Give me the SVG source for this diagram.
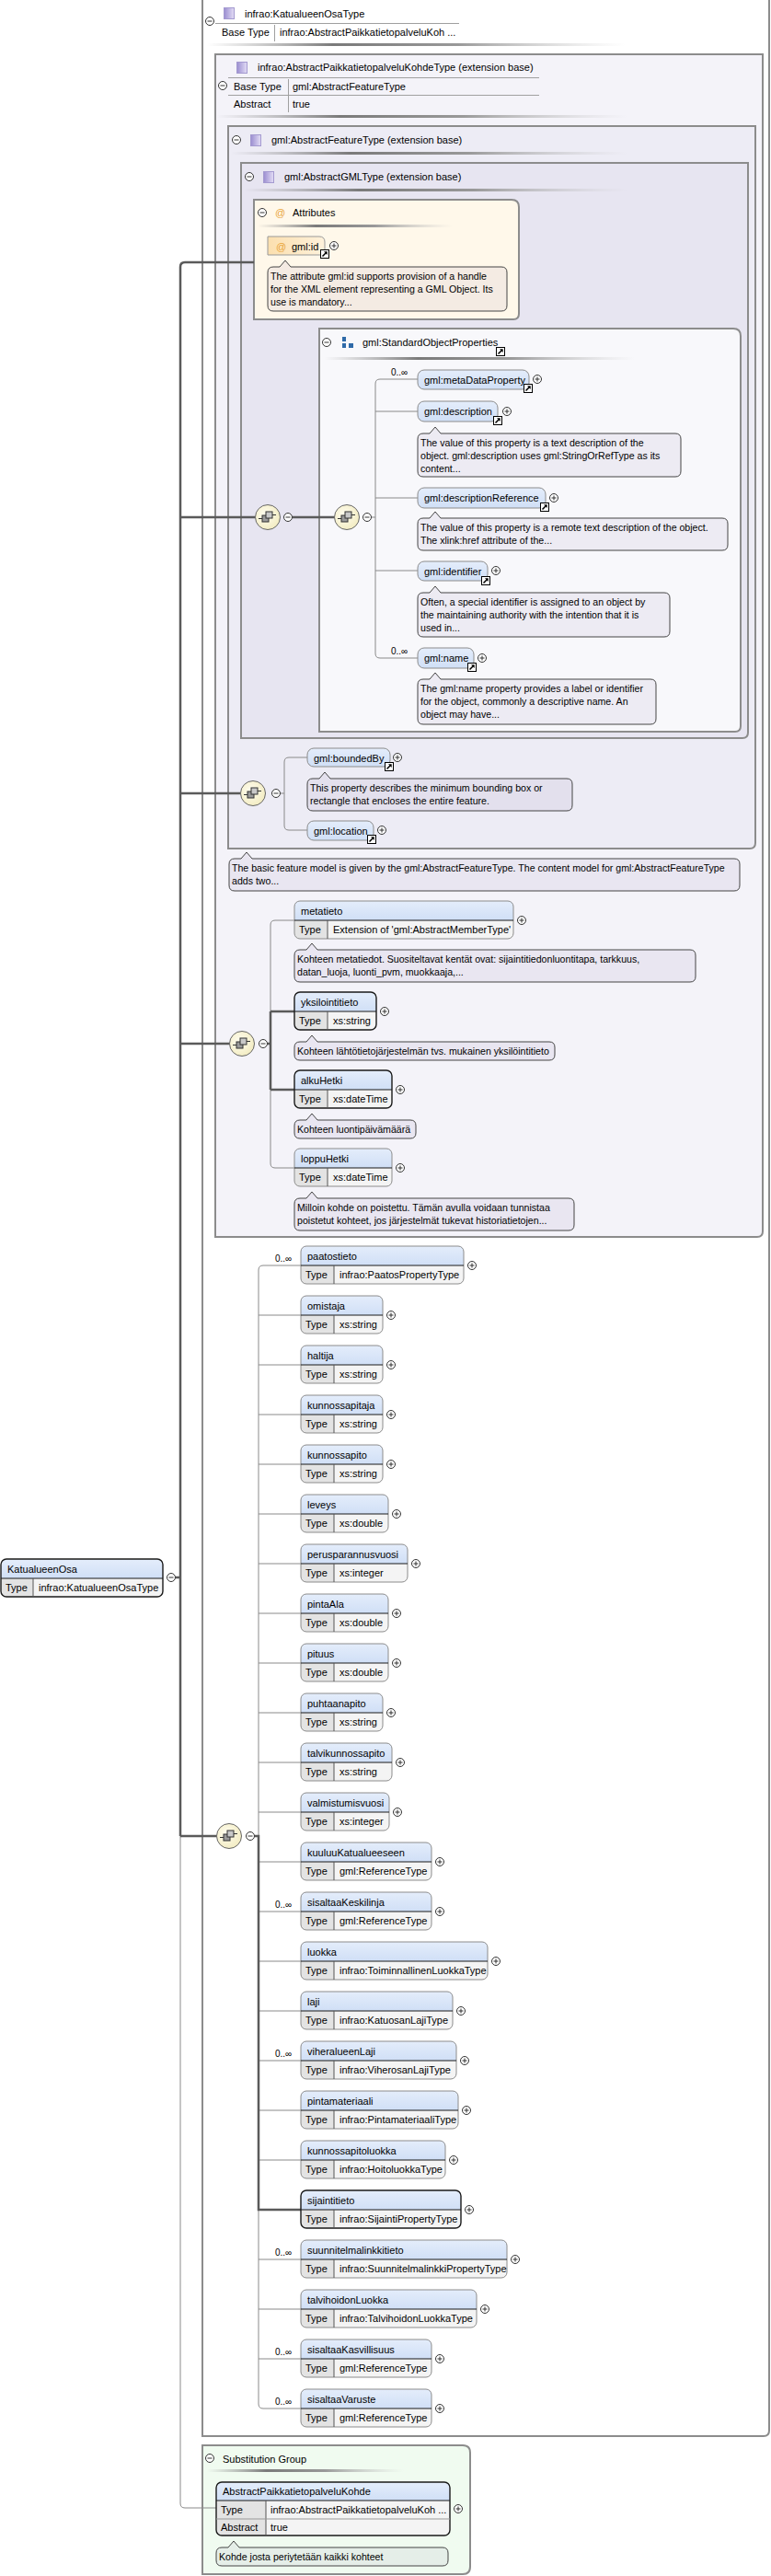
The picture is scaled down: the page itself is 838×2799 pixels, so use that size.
<svg xmlns="http://www.w3.org/2000/svg" width="838" height="2799" viewBox="0 0 838 2799">
<style>
.t{font-family:"Liberation Sans",Arial,sans-serif;font-size:11px;fill:#000}
.a{font-family:"Liberation Sans",Arial,sans-serif;font-size:10.6px;fill:#000}
.oc{font-family:"Liberation Sans",Arial,sans-serif;font-size:10px;fill:#000}
.at{font-family:"Liberation Sans",Arial,sans-serif;font-size:11px;fill:#e9a53a}
.cb{stroke:#8c8c8c;stroke-width:2}
.nr{fill:url(#blu)}
.tr{fill:#f4f4f4}
.tc{fill:#e3e3e3}
.bo{fill:none;stroke:#8c8c8c}
.bm{fill:none;stroke:#1a1a1a;stroke-width:1.4}
.dv{fill:none;stroke:#1a1a1a;stroke-width:1.2}
.sp{fill:none;stroke:#555}
.rb{fill:url(#blu);stroke:#8c8c8c}
.an{fill:#3c2878;fill-opacity:0.06;stroke:#444}
.ck{fill:none;stroke:#5a5a5a;stroke-width:2.5}
.cn{fill:none;stroke:#8a8a8a;stroke-width:1}
.hl{stroke:#a0a0a0;fill:none}
</style>
<defs>
<linearGradient id="sh" x1="0" x2="1" y1="0" y2="0"><stop offset="0" stop-color="#999" stop-opacity="0"/><stop offset="0.3" stop-color="#7a7a7a"/><stop offset="0.6" stop-color="#999"/><stop offset="1" stop-color="#ccc" stop-opacity="0"/></linearGradient>
<linearGradient id="pur" x1="0" x2="1" y1="0" y2="0"><stop offset="0" stop-color="#9a8dd0"/><stop offset="1" stop-color="#e4def6"/></linearGradient>
<linearGradient id="blu" x1="0" y1="0" x2="0" y2="1"><stop offset="0" stop-color="#e4edfb"/><stop offset="1" stop-color="#d0dff6"/></linearGradient>
<linearGradient id="org" x1="0" x2="1" y1="0" y2="0"><stop offset="0" stop-color="#fbdfae"/><stop offset="1" stop-color="#fff2dc"/></linearGradient>
<radialGradient id="cmp" cx="0.4" cy="0.4" r="0.7"><stop offset="0" stop-color="#fffdf0"/><stop offset="1" stop-color="#f1eabd"/></radialGradient>
<g id="pl"><circle r="4.5" fill="#fff" stroke="#333"/><path d="M-2.5,0H2.5M0,-2.5V2.5" stroke="#333"/></g>
<g id="mi"><circle r="4.5" fill="#fff" stroke="#333"/><path d="M-2.5,0H2.5" stroke="#333"/></g>
<g id="lk"><rect x="0.5" y="0.5" width="9" height="9" fill="#fff" stroke="#000"/><path d="M2.5,7.5L6.5,3.5" stroke="#000" stroke-width="1.6"/><path d="M4,2.3H7.7V6Z" fill="#000"/></g>
<g id="ti"><rect x="0.5" y="0.5" width="11" height="12" fill="url(#pur)" stroke="#a49ad0"/></g>
<g id="sq"><circle r="13.5" fill="url(#cmp)" stroke="#666"/><path d="M-10,1.5H-6M5,-2.5H9" stroke="#333"/><rect x="-6" y="-2" width="7" height="7" fill="#9a9a9a" stroke="#333"/><rect x="-2" y="-6" width="7" height="7" fill="#c8c8c8" stroke="#333"/></g>
</defs>

<!-- containers -->
<g id="KatualueenOsaType">
<path class="cb" d="M220,-4H836V2641Q836,2647 830,2647H220Z" fill="#fff"/>
<use href="#mi" x="228" y="23"/>
<use href="#ti" x="243" y="8"/>
<text class="t" x="266" y="19">infrao:KatualueenOsaType</text>
<path class="hl" d="M234,25.5H499"/>
<text class="t" x="241" y="39">Base Type</text>
<path class="hl" d="M298.5,27V45"/>
<text class="t" x="304" y="39">infrao:AbstractPaikkatietopalveluKoh ...</text>
<rect x="225" y="47" width="455" height="3" fill="url(#sh)"/>
</g>
<g id="AbstractPaikkatietopalveluKohdeType">
<path class="cb" d="M234,59H829V1338Q829,1344 823,1344H234Z" fill="#f4f3f9"/>
<use href="#ti" x="257" y="67"/>
<text class="t" x="280" y="77">infrao:AbstractPaikkatietopalveluKohdeType (extension base)</text>
<path class="hl" d="M248,84.5H586M248,103.5H586M313.5,86V122"/>
<use href="#mi" x="242" y="93"/>
<text class="t" x="254" y="98">Base Type</text>
<text class="t" x="318" y="98">gml:AbstractFeatureType</text>
<text class="t" x="254" y="117">Abstract</text>
<text class="t" x="318" y="117">true</text>
<rect x="235" y="125" width="447" height="3" fill="url(#sh)"/>
</g>
<g id="AbstractFeatureType">
<path class="cb" d="M248,137H821V916Q821,922 815,922H248Z" fill="#edecf5"/>
<use href="#mi" x="257" y="152"/>
<use href="#ti" x="272" y="146"/>
<text class="t" x="295" y="156">gml:AbstractFeatureType (extension base)</text>
<rect x="251" y="165" width="431" height="3" fill="url(#sh)"/>
</g>
<g id="AbstractGMLType">
<path class="cb" d="M262,177H813V796Q813,802 807,802H262Z" fill="#e7e5f1"/>
<use href="#mi" x="271" y="192"/>
<use href="#ti" x="286" y="186"/>
<text class="t" x="309" y="196">gml:AbstractGMLType (extension base)</text>
<rect x="265" y="205" width="417" height="3" fill="url(#sh)"/>
</g>
<g id="Attributes">
<path class="cb" d="M276,217H556Q564,217 564,225V341Q564,347 558,347H276Z" fill="#fff8ea"/>
<use href="#mi" x="285" y="231"/>
<text class="at" x="299" y="235">@</text>
<text class="t" x="318" y="235">Attributes</text>
<rect x="280" y="244" width="212" height="3" fill="url(#sh)"/>
</g>
<g id="StandardObjectProperties">
<path class="cb" d="M347,357H797Q805,357 805,365V789Q805,795 799,795H347Z" fill="#f8f8fb"/>
<use href="#mi" x="355" y="372"/>
<rect x="372" y="366" width="4" height="5" fill="#2f6aa8"/><rect x="372" y="373" width="4" height="5" fill="#2f6aa8"/><rect x="379" y="373" width="5" height="5" fill="#2f6aa8"/>
<text class="t" x="394" y="376">gml:StandardObjectProperties</text>
<use href="#lk" x="539" y="377"/>
<rect x="353" y="388" width="337" height="3" fill="url(#sh)"/>
</g>
<g id="SubstitutionGroup">
<path class="cb" d="M220,2657H503Q511,2657 511,2665V2789Q511,2797 503,2797H220Z" fill="#f0fbf0"/>
<use href="#mi" x="228" y="2671"/>
<text class="t" x="242" y="2676">Substitution Group</text>
<rect x="225" y="2683" width="214" height="3" fill="url(#sh)"/>
</g>

<!-- connectors -->
<g id="connectors">
<path class="cn" d="M196,1995V2720Q196,2725 201,2725H235"/>
<path class="cn" d="M403.5,562H408M454,412H413Q408,412 408,417V710Q408,715 413,715H454M408,447H454M408,541H454M408,620H454"/>
<path class="cn" d="M304.5,862H309M334,823H314Q309,823 309,828V897Q309,902 314,902H334"/>
<path class="cn" d="M320,1000H299Q294,1000 294,1005V1264Q294,1269 299,1269H320"/>
<path class="cn" d="M327,1375H286Q281,1375 281,1380V2612Q281,2617 286,2617H327M281,1429H327M281,1483H327M281,1537H327M281,1591H327M281,1645H327M281,1699H327M281,1753H327M281,1807H327M281,1861H327M281,1915H327M281,1969H327M281,2023H327M281,2077H327M281,2131H327M281,2185H327M281,2239H327M281,2293H327M281,2347H327M281,2455H327M281,2509H327M281,2563H327"/>
<path class="ck" d="M190.5,1714H196M276,285H201Q196,285 196,290V1995M196,562H277.5M196,862H261.5M196,1134H249.5M196,1995H235.5M317.5,562H363.5"/>
<path class="ck" d="M290.5,1134H294M294,1099V1184M294,1099H320M294,1184H320"/>
<path class="ck" d="M276.5,1995H281V2401H327"/>
</g>

<!-- compositors -->
<g id="seq-AbstractGMLType"><use href="#sq" x="291" y="562"/><use href="#mi" x="313" y="562"/></g>
<g id="seq-StandardObjectProperties"><use href="#sq" x="377" y="562"/><use href="#mi" x="399" y="562"/></g>
<g id="seq-AbstractFeatureType"><use href="#sq" x="275" y="862"/><use href="#mi" x="300" y="862"/></g>
<g id="seq-AbstractPaikkatietopalveluKohdeType"><use href="#sq" x="263" y="1134"/><use href="#mi" x="286" y="1134"/></g>
<g id="seq-KatualueenOsaType"><use href="#sq" x="249" y="1995"/><use href="#mi" x="272" y="1995"/></g>

<!-- attribute gml:id -->
<g id="gml-id">
<path d="M291,257H347Q353,257 353,263V277H291Z" fill="url(#org)" stroke="#999"/>
<text class="at" x="300" y="272">@</text>
<text class="t" x="317" y="272">gml:id</text>
<use href="#lk" x="348" y="271"/>
<use href="#pl" x="363" y="267"/>
<g transform="translate(291,290)"><path class="an" d="M6,0H13L19,-7L25,0H254Q260,0 260,6V42Q260,48 254,48H6Q0,48 0,42V6Q0,0 6,0Z"/>
<text class="a" x="3" y="14">The attribute gml:id supports provision of a handle</text>
<text class="a" x="3" y="28">for the XML element representing a GML Object. Its</text>
<text class="a" x="3" y="42">use is mandatory...</text></g>
</g>

<!-- StandardObjectProperties elements -->
<g id="gml-metaDataProperty">
<text class="oc" x="425" y="408">0..∞</text>
<rect class="rb" x="454" y="402" width="121" height="21" rx="7"/>
<text class="t" x="461" y="417">gml:metaDataProperty</text>
<use href="#lk" x="569" y="417"/><use href="#pl" x="584" y="412"/>
</g>
<g id="gml-description">
<rect class="rb" x="454" y="436" width="87" height="22" rx="7"/>
<text class="t" x="461" y="451">gml:description</text>
<use href="#lk" x="536" y="452"/><use href="#pl" x="551" y="447"/>
<g transform="translate(454,471)"><path class="an" d="M6,0H13L19,-7L25,0H280Q286,0 286,6V41Q286,47 280,47H6Q0,47 0,41V6Q0,0 6,0Z"/>
<text class="a" x="3" y="14">The value of this property is a text description of the</text>
<text class="a" x="3" y="28">object. gml:description uses gml:StringOrRefType as its</text>
<text class="a" x="3" y="42">content...</text></g>
</g>
<g id="gml-descriptionReference">
<rect class="rb" x="454" y="530" width="139" height="22" rx="7"/>
<text class="t" x="461" y="545">gml:descriptionReference</text>
<use href="#lk" x="587" y="546"/><use href="#pl" x="602" y="541"/>
<g transform="translate(454,563)"><path class="an" d="M6,0H13L19,-7L25,0H331Q337,0 337,6V29Q337,35 331,35H6Q0,35 0,29V6Q0,0 6,0Z"/>
<text class="a" x="3" y="14">The value of this property is a remote text description of the object.</text>
<text class="a" x="3" y="28">The xlink:href attribute of the...</text></g>
</g>
<g id="gml-identifier">
<rect class="rb" x="454" y="610" width="76" height="21" rx="7"/>
<text class="t" x="461" y="625">gml:identifier</text>
<use href="#lk" x="523" y="626"/><use href="#pl" x="539" y="620"/>
<g transform="translate(454,644)"><path class="an" d="M6,0H13L19,-7L25,0H268Q274,0 274,6V42Q274,48 268,48H6Q0,48 0,42V6Q0,0 6,0Z"/>
<text class="a" x="3" y="14">Often, a special identifier is assigned to an object by</text>
<text class="a" x="3" y="28">the maintaining authority with the intention that it is</text>
<text class="a" x="3" y="42">used in...</text></g>
</g>
<g id="gml-name">
<text class="oc" x="425" y="711">0..∞</text>
<rect class="rb" x="454" y="704" width="61" height="22" rx="7"/>
<text class="t" x="461" y="719">gml:name</text>
<use href="#lk" x="508" y="720"/><use href="#pl" x="524" y="715"/>
<g transform="translate(454,738)"><path class="an" d="M6,0H13L19,-7L25,0H253Q259,0 259,6V43Q259,49 253,49H6Q0,49 0,43V6Q0,0 6,0Z"/>
<text class="a" x="3" y="14">The gml:name property provides a label or identifier</text>
<text class="a" x="3" y="28">for the object, commonly a descriptive name. An</text>
<text class="a" x="3" y="42">object may have...</text></g>
</g>

<!-- AbstractFeatureType elements -->
<g id="gml-boundedBy">
<rect class="rb" x="334" y="813" width="90" height="20" rx="7"/>
<text class="t" x="341" y="828">gml:boundedBy</text>
<use href="#lk" x="418" y="828"/><use href="#pl" x="432" y="823"/>
<g transform="translate(334,846)"><path class="an" d="M6,0H13L19,-7L25,0H282Q288,0 288,6V29Q288,35 282,35H6Q0,35 0,29V6Q0,0 6,0Z"/>
<text class="a" x="3" y="14">This property describes the minimum bounding box or</text>
<text class="a" x="3" y="28">rectangle that encloses the entire feature.</text></g>
</g>
<g id="gml-location">
<rect class="rb" x="334" y="892" width="72" height="21" rx="7"/>
<text class="t" x="341" y="907">gml:location</text>
<use href="#lk" x="399" y="907"/><use href="#pl" x="415" y="902"/>
</g>
<g id="ann-AbstractFeatureType" transform="translate(249,933)"><path class="an" d="M6,0H13L19,-7L25,0H549Q555,0 555,6V29Q555,35 549,35H6Q0,35 0,29V6Q0,0 6,0Z"/>
<text class="a" x="3" y="14">The basic feature model is given by the gml:AbstractFeatureType. The content model for gml:AbstractFeatureType</text>
<text class="a" x="3" y="28">adds two...</text></g>

<!-- AbstractPaikkatietopalveluKohdeType elements -->
<g id="metatieto">
<path class="nr" d="M320,1000V985Q320,979 326,979H552Q558,979 558,985V1000Z"/>
<path class="tr" d="M320,1000H558V1014Q558,1020 552,1020H326Q320,1020 320,1014Z"/>
<path class="tc" d="M320,1000H356V1020H326Q320,1020 320,1014Z"/>
<rect class="bo" x="320" y="979" width="238" height="41" rx="6"/>
<path class="dv" d="M320,1000H558"/><path class="sp" d="M356,1000V1020"/>
<text class="t" x="327" y="994">metatieto</text>
<text class="t" x="325" y="1014">Type</text><text class="t" x="362" y="1014">Extension of 'gml:AbstractMemberType'</text>
<use href="#pl" x="567" y="1000"/>
<g transform="translate(320,1032)"><path class="an" d="M6,0H13L19,-7L25,0H430Q436,0 436,6V29Q436,35 430,35H6Q0,35 0,29V6Q0,0 6,0Z"/>
<text class="a" x="3" y="14">Kohteen metatiedot. Suositeltavat kentät ovat: sijaintitiedonluontitapa, tarkkuus,</text>
<text class="a" x="3" y="28">datan_luoja, luonti_pvm, muokkaaja,...</text></g>
</g>
<g id="yksilointitieto">
<path class="nr" d="M320,1099V1084Q320,1078 326,1078H403Q409,1078 409,1084V1099Z"/>
<path class="tr" d="M320,1099H409V1113Q409,1119 403,1119H326Q320,1119 320,1113Z"/>
<path class="tc" d="M320,1099H356V1119H326Q320,1119 320,1113Z"/>
<rect class="bm" x="320" y="1078" width="89" height="41" rx="6"/>
<path class="dv" d="M320,1099H409"/><path class="sp" d="M356,1099V1119"/>
<text class="t" x="327" y="1093">yksilointitieto</text>
<text class="t" x="325" y="1113">Type</text><text class="t" x="362" y="1113">xs:string</text>
<use href="#pl" x="418" y="1099"/>
<g transform="translate(320,1132)"><path class="an" d="M6,0H13L19,-7L25,0H277Q283,0 283,6V14Q283,20 277,20H6Q0,20 0,14V6Q0,0 6,0Z"/>
<text class="a" x="3" y="14">Kohteen lähtötietojärjestelmän tvs. mukainen yksilöintitieto</text></g>
</g>
<g id="alkuHetki">
<path class="nr" d="M320,1184V1169Q320,1163 326,1163H420Q426,1163 426,1169V1184Z"/>
<path class="tr" d="M320,1184H426V1198Q426,1204 420,1204H326Q320,1204 320,1198Z"/>
<path class="tc" d="M320,1184H356V1204H326Q320,1204 320,1198Z"/>
<rect class="bm" x="320" y="1163" width="106" height="41" rx="6"/>
<path class="dv" d="M320,1184H426"/><path class="sp" d="M356,1184V1204"/>
<text class="t" x="327" y="1178">alkuHetki</text>
<text class="t" x="325" y="1198">Type</text><text class="t" x="362" y="1198">xs:dateTime</text>
<use href="#pl" x="435" y="1184"/>
<g transform="translate(320,1217)"><path class="an" d="M6,0H13L19,-7L25,0H126Q132,0 132,6V14Q132,20 126,20H6Q0,20 0,14V6Q0,0 6,0Z"/>
<text class="a" x="3" y="14">Kohteen luontipäivämäärä</text></g>
</g>
<g id="loppuHetki">
<path class="nr" d="M320,1269V1254Q320,1248 326,1248H420Q426,1248 426,1254V1269Z"/>
<path class="tr" d="M320,1269H426V1283Q426,1289 420,1289H326Q320,1289 320,1283Z"/>
<path class="tc" d="M320,1269H356V1289H326Q320,1289 320,1283Z"/>
<rect class="bo" x="320" y="1248" width="106" height="41" rx="6"/>
<path class="dv" d="M320,1269H426"/><path class="sp" d="M356,1269V1289"/>
<text class="t" x="327" y="1263">loppuHetki</text>
<text class="t" x="325" y="1283">Type</text><text class="t" x="362" y="1283">xs:dateTime</text>
<use href="#pl" x="435" y="1269"/>
<g transform="translate(320,1302)"><path class="an" d="M6,0H13L19,-7L25,0H298Q304,0 304,6V29Q304,35 298,35H6Q0,35 0,29V6Q0,0 6,0Z"/>
<text class="a" x="3" y="14">Milloin kohde on poistettu. Tämän avulla voidaan tunnistaa</text>
<text class="a" x="3" y="28">poistetut kohteet, jos järjestelmät tukevat historiatietojen...</text></g>
</g>

<!-- KatualueenOsaType sequence elements -->
<g id="paatostieto">
<path class="nr" d="M327,1375V1360Q327,1354 333,1354H498Q504,1354 504,1360V1375Z"/>
<path class="tr" d="M327,1375H504V1389Q504,1395 498,1395H333Q327,1395 327,1389Z"/>
<path class="tc" d="M327,1375H363V1395H333Q327,1395 327,1389Z"/>
<rect class="bo" x="327" y="1354" width="177" height="41" rx="6"/>
<path class="dv" d="M327,1375H504"/><path class="sp" d="M363,1375V1395"/>
<text class="oc" x="299" y="1371">0..∞</text>
<text class="t" x="334" y="1369">paatostieto</text>
<text class="t" x="332" y="1389">Type</text><text class="t" x="369" y="1389">infrao:PaatosPropertyType</text>
<use href="#pl" x="513" y="1375"/>
</g>
<g id="omistaja">
<path class="nr" d="M327,1429V1414Q327,1408 333,1408H410Q416,1408 416,1414V1429Z"/>
<path class="tr" d="M327,1429H416V1443Q416,1449 410,1449H333Q327,1449 327,1443Z"/>
<path class="tc" d="M327,1429H363V1449H333Q327,1449 327,1443Z"/>
<rect class="bo" x="327" y="1408" width="89" height="41" rx="6"/>
<path class="dv" d="M327,1429H416"/><path class="sp" d="M363,1429V1449"/>
<text class="t" x="334" y="1423">omistaja</text>
<text class="t" x="332" y="1443">Type</text><text class="t" x="369" y="1443">xs:string</text>
<use href="#pl" x="425" y="1429"/>
</g>
<g id="haltija">
<path class="nr" d="M327,1483V1468Q327,1462 333,1462H410Q416,1462 416,1468V1483Z"/>
<path class="tr" d="M327,1483H416V1497Q416,1503 410,1503H333Q327,1503 327,1497Z"/>
<path class="tc" d="M327,1483H363V1503H333Q327,1503 327,1497Z"/>
<rect class="bo" x="327" y="1462" width="89" height="41" rx="6"/>
<path class="dv" d="M327,1483H416"/><path class="sp" d="M363,1483V1503"/>
<text class="t" x="334" y="1477">haltija</text>
<text class="t" x="332" y="1497">Type</text><text class="t" x="369" y="1497">xs:string</text>
<use href="#pl" x="425" y="1483"/>
</g>
<g id="kunnossapitaja">
<path class="nr" d="M327,1537V1522Q327,1516 333,1516H410Q416,1516 416,1522V1537Z"/>
<path class="tr" d="M327,1537H416V1551Q416,1557 410,1557H333Q327,1557 327,1551Z"/>
<path class="tc" d="M327,1537H363V1557H333Q327,1557 327,1551Z"/>
<rect class="bo" x="327" y="1516" width="89" height="41" rx="6"/>
<path class="dv" d="M327,1537H416"/><path class="sp" d="M363,1537V1557"/>
<text class="t" x="334" y="1531">kunnossapitaja</text>
<text class="t" x="332" y="1551">Type</text><text class="t" x="369" y="1551">xs:string</text>
<use href="#pl" x="425" y="1537"/>
</g>
<g id="kunnossapito">
<path class="nr" d="M327,1591V1576Q327,1570 333,1570H410Q416,1570 416,1576V1591Z"/>
<path class="tr" d="M327,1591H416V1605Q416,1611 410,1611H333Q327,1611 327,1605Z"/>
<path class="tc" d="M327,1591H363V1611H333Q327,1611 327,1605Z"/>
<rect class="bo" x="327" y="1570" width="89" height="41" rx="6"/>
<path class="dv" d="M327,1591H416"/><path class="sp" d="M363,1591V1611"/>
<text class="t" x="334" y="1585">kunnossapito</text>
<text class="t" x="332" y="1605">Type</text><text class="t" x="369" y="1605">xs:string</text>
<use href="#pl" x="425" y="1591"/>
</g>
<g id="leveys">
<path class="nr" d="M327,1645V1630Q327,1624 333,1624H416Q422,1624 422,1630V1645Z"/>
<path class="tr" d="M327,1645H422V1659Q422,1665 416,1665H333Q327,1665 327,1659Z"/>
<path class="tc" d="M327,1645H363V1665H333Q327,1665 327,1659Z"/>
<rect class="bo" x="327" y="1624" width="95" height="41" rx="6"/>
<path class="dv" d="M327,1645H422"/><path class="sp" d="M363,1645V1665"/>
<text class="t" x="334" y="1639">leveys</text>
<text class="t" x="332" y="1659">Type</text><text class="t" x="369" y="1659">xs:double</text>
<use href="#pl" x="431" y="1645"/>
</g>
<g id="perusparannusvuosi">
<path class="nr" d="M327,1699V1684Q327,1678 333,1678H437Q443,1678 443,1684V1699Z"/>
<path class="tr" d="M327,1699H443V1713Q443,1719 437,1719H333Q327,1719 327,1713Z"/>
<path class="tc" d="M327,1699H363V1719H333Q327,1719 327,1713Z"/>
<rect class="bo" x="327" y="1678" width="116" height="41" rx="6"/>
<path class="dv" d="M327,1699H443"/><path class="sp" d="M363,1699V1719"/>
<text class="t" x="334" y="1693">perusparannusvuosi</text>
<text class="t" x="332" y="1713">Type</text><text class="t" x="369" y="1713">xs:integer</text>
<use href="#pl" x="452" y="1699"/>
</g>
<g id="pintaAla">
<path class="nr" d="M327,1753V1738Q327,1732 333,1732H416Q422,1732 422,1738V1753Z"/>
<path class="tr" d="M327,1753H422V1767Q422,1773 416,1773H333Q327,1773 327,1767Z"/>
<path class="tc" d="M327,1753H363V1773H333Q327,1773 327,1767Z"/>
<rect class="bo" x="327" y="1732" width="95" height="41" rx="6"/>
<path class="dv" d="M327,1753H422"/><path class="sp" d="M363,1753V1773"/>
<text class="t" x="334" y="1747">pintaAla</text>
<text class="t" x="332" y="1767">Type</text><text class="t" x="369" y="1767">xs:double</text>
<use href="#pl" x="431" y="1753"/>
</g>
<g id="pituus">
<path class="nr" d="M327,1807V1792Q327,1786 333,1786H416Q422,1786 422,1792V1807Z"/>
<path class="tr" d="M327,1807H422V1821Q422,1827 416,1827H333Q327,1827 327,1821Z"/>
<path class="tc" d="M327,1807H363V1827H333Q327,1827 327,1821Z"/>
<rect class="bo" x="327" y="1786" width="95" height="41" rx="6"/>
<path class="dv" d="M327,1807H422"/><path class="sp" d="M363,1807V1827"/>
<text class="t" x="334" y="1801">pituus</text>
<text class="t" x="332" y="1821">Type</text><text class="t" x="369" y="1821">xs:double</text>
<use href="#pl" x="431" y="1807"/>
</g>
<g id="puhtaanapito">
<path class="nr" d="M327,1861V1846Q327,1840 333,1840H410Q416,1840 416,1846V1861Z"/>
<path class="tr" d="M327,1861H416V1875Q416,1881 410,1881H333Q327,1881 327,1875Z"/>
<path class="tc" d="M327,1861H363V1881H333Q327,1881 327,1875Z"/>
<rect class="bo" x="327" y="1840" width="89" height="41" rx="6"/>
<path class="dv" d="M327,1861H416"/><path class="sp" d="M363,1861V1881"/>
<text class="t" x="334" y="1855">puhtaanapito</text>
<text class="t" x="332" y="1875">Type</text><text class="t" x="369" y="1875">xs:string</text>
<use href="#pl" x="425" y="1861"/>
</g>
<g id="talvikunnossapito">
<path class="nr" d="M327,1915V1900Q327,1894 333,1894H420Q426,1894 426,1900V1915Z"/>
<path class="tr" d="M327,1915H426V1929Q426,1935 420,1935H333Q327,1935 327,1929Z"/>
<path class="tc" d="M327,1915H363V1935H333Q327,1935 327,1929Z"/>
<rect class="bo" x="327" y="1894" width="99" height="41" rx="6"/>
<path class="dv" d="M327,1915H426"/><path class="sp" d="M363,1915V1935"/>
<text class="t" x="334" y="1909">talvikunnossapito</text>
<text class="t" x="332" y="1929">Type</text><text class="t" x="369" y="1929">xs:string</text>
<use href="#pl" x="435" y="1915"/>
</g>
<g id="valmistumisvuosi">
<path class="nr" d="M327,1969V1954Q327,1948 333,1948H417Q423,1948 423,1954V1969Z"/>
<path class="tr" d="M327,1969H423V1983Q423,1989 417,1989H333Q327,1989 327,1983Z"/>
<path class="tc" d="M327,1969H363V1989H333Q327,1989 327,1983Z"/>
<rect class="bo" x="327" y="1948" width="96" height="41" rx="6"/>
<path class="dv" d="M327,1969H423"/><path class="sp" d="M363,1969V1989"/>
<text class="t" x="334" y="1963">valmistumisvuosi</text>
<text class="t" x="332" y="1983">Type</text><text class="t" x="369" y="1983">xs:integer</text>
<use href="#pl" x="432" y="1969"/>
</g>
<g id="kuuluuKatualueeseen">
<path class="nr" d="M327,2023V2008Q327,2002 333,2002H463Q469,2002 469,2008V2023Z"/>
<path class="tr" d="M327,2023H469V2037Q469,2043 463,2043H333Q327,2043 327,2037Z"/>
<path class="tc" d="M327,2023H363V2043H333Q327,2043 327,2037Z"/>
<rect class="bo" x="327" y="2002" width="142" height="41" rx="6"/>
<path class="dv" d="M327,2023H469"/><path class="sp" d="M363,2023V2043"/>
<text class="t" x="334" y="2017">kuuluuKatualueeseen</text>
<text class="t" x="332" y="2037">Type</text><text class="t" x="369" y="2037">gml:ReferenceType</text>
<use href="#pl" x="478" y="2023"/>
</g>
<g id="sisaltaaKeskilinja">
<path class="nr" d="M327,2077V2062Q327,2056 333,2056H463Q469,2056 469,2062V2077Z"/>
<path class="tr" d="M327,2077H469V2091Q469,2097 463,2097H333Q327,2097 327,2091Z"/>
<path class="tc" d="M327,2077H363V2097H333Q327,2097 327,2091Z"/>
<rect class="bo" x="327" y="2056" width="142" height="41" rx="6"/>
<path class="dv" d="M327,2077H469"/><path class="sp" d="M363,2077V2097"/>
<text class="oc" x="299" y="2073">0..∞</text>
<text class="t" x="334" y="2071">sisaltaaKeskilinja</text>
<text class="t" x="332" y="2091">Type</text><text class="t" x="369" y="2091">gml:ReferenceType</text>
<use href="#pl" x="478" y="2077"/>
</g>
<g id="luokka">
<path class="nr" d="M327,2131V2116Q327,2110 333,2110H524Q530,2110 530,2116V2131Z"/>
<path class="tr" d="M327,2131H530V2145Q530,2151 524,2151H333Q327,2151 327,2145Z"/>
<path class="tc" d="M327,2131H363V2151H333Q327,2151 327,2145Z"/>
<rect class="bo" x="327" y="2110" width="203" height="41" rx="6"/>
<path class="dv" d="M327,2131H530"/><path class="sp" d="M363,2131V2151"/>
<text class="t" x="334" y="2125">luokka</text>
<text class="t" x="332" y="2145">Type</text><text class="t" x="369" y="2145">infrao:ToiminnallinenLuokkaType</text>
<use href="#pl" x="539" y="2131"/>
</g>
<g id="laji">
<path class="nr" d="M327,2185V2170Q327,2164 333,2164H486Q492,2164 492,2170V2185Z"/>
<path class="tr" d="M327,2185H492V2199Q492,2205 486,2205H333Q327,2205 327,2199Z"/>
<path class="tc" d="M327,2185H363V2205H333Q327,2205 327,2199Z"/>
<rect class="bo" x="327" y="2164" width="165" height="41" rx="6"/>
<path class="dv" d="M327,2185H492"/><path class="sp" d="M363,2185V2205"/>
<text class="t" x="334" y="2179">laji</text>
<text class="t" x="332" y="2199">Type</text><text class="t" x="369" y="2199">infrao:KatuosanLajiType</text>
<use href="#pl" x="501" y="2185"/>
</g>
<g id="viheralueenLaji">
<path class="nr" d="M327,2239V2224Q327,2218 333,2218H490Q496,2218 496,2224V2239Z"/>
<path class="tr" d="M327,2239H496V2253Q496,2259 490,2259H333Q327,2259 327,2253Z"/>
<path class="tc" d="M327,2239H363V2259H333Q327,2259 327,2253Z"/>
<rect class="bo" x="327" y="2218" width="169" height="41" rx="6"/>
<path class="dv" d="M327,2239H496"/><path class="sp" d="M363,2239V2259"/>
<text class="oc" x="299" y="2235">0..∞</text>
<text class="t" x="334" y="2233">viheralueenLaji</text>
<text class="t" x="332" y="2253">Type</text><text class="t" x="369" y="2253">infrao:ViherosanLajiType</text>
<use href="#pl" x="505" y="2239"/>
</g>
<g id="pintamateriaali">
<path class="nr" d="M327,2293V2278Q327,2272 333,2272H492Q498,2272 498,2278V2293Z"/>
<path class="tr" d="M327,2293H498V2307Q498,2313 492,2313H333Q327,2313 327,2307Z"/>
<path class="tc" d="M327,2293H363V2313H333Q327,2313 327,2307Z"/>
<rect class="bo" x="327" y="2272" width="171" height="41" rx="6"/>
<path class="dv" d="M327,2293H498"/><path class="sp" d="M363,2293V2313"/>
<text class="t" x="334" y="2287">pintamateriaali</text>
<text class="t" x="332" y="2307">Type</text><text class="t" x="369" y="2307">infrao:PintamateriaaliType</text>
<use href="#pl" x="507" y="2293"/>
</g>
<g id="kunnossapitoluokka">
<path class="nr" d="M327,2347V2332Q327,2326 333,2326H478Q484,2326 484,2332V2347Z"/>
<path class="tr" d="M327,2347H484V2361Q484,2367 478,2367H333Q327,2367 327,2361Z"/>
<path class="tc" d="M327,2347H363V2367H333Q327,2367 327,2361Z"/>
<rect class="bo" x="327" y="2326" width="157" height="41" rx="6"/>
<path class="dv" d="M327,2347H484"/><path class="sp" d="M363,2347V2367"/>
<text class="t" x="334" y="2341">kunnossapitoluokka</text>
<text class="t" x="332" y="2361">Type</text><text class="t" x="369" y="2361">infrao:HoitoluokkaType</text>
<use href="#pl" x="493" y="2347"/>
</g>
<g id="sijaintitieto">
<path class="nr" d="M327,2401V2386Q327,2380 333,2380H495Q501,2380 501,2386V2401Z"/>
<path class="tr" d="M327,2401H501V2415Q501,2421 495,2421H333Q327,2421 327,2415Z"/>
<path class="tc" d="M327,2401H363V2421H333Q327,2421 327,2415Z"/>
<rect class="bm" x="327" y="2380" width="174" height="41" rx="6"/>
<path class="dv" d="M327,2401H501"/><path class="sp" d="M363,2401V2421"/>
<text class="t" x="334" y="2395">sijaintitieto</text>
<text class="t" x="332" y="2415">Type</text><text class="t" x="369" y="2415">infrao:SijaintiPropertyType</text>
<use href="#pl" x="510" y="2401"/>
</g>
<g id="suunnitelmalinkkitieto">
<path class="nr" d="M327,2455V2440Q327,2434 333,2434H545Q551,2434 551,2440V2455Z"/>
<path class="tr" d="M327,2455H551V2469Q551,2475 545,2475H333Q327,2475 327,2469Z"/>
<path class="tc" d="M327,2455H363V2475H333Q327,2475 327,2469Z"/>
<rect class="bo" x="327" y="2434" width="224" height="41" rx="6"/>
<path class="dv" d="M327,2455H551"/><path class="sp" d="M363,2455V2475"/>
<text class="oc" x="299" y="2451">0..∞</text>
<text class="t" x="334" y="2449">suunnitelmalinkkitieto</text>
<text class="t" x="332" y="2469">Type</text><text class="t" x="369" y="2469">infrao:SuunnitelmalinkkiPropertyType</text>
<use href="#pl" x="560" y="2455"/>
</g>
<g id="talvihoidonLuokka">
<path class="nr" d="M327,2509V2494Q327,2488 333,2488H512Q518,2488 518,2494V2509Z"/>
<path class="tr" d="M327,2509H518V2523Q518,2529 512,2529H333Q327,2529 327,2523Z"/>
<path class="tc" d="M327,2509H363V2529H333Q327,2529 327,2523Z"/>
<rect class="bo" x="327" y="2488" width="191" height="41" rx="6"/>
<path class="dv" d="M327,2509H518"/><path class="sp" d="M363,2509V2529"/>
<text class="t" x="334" y="2503">talvihoidonLuokka</text>
<text class="t" x="332" y="2523">Type</text><text class="t" x="369" y="2523">infrao:TalvihoidonLuokkaType</text>
<use href="#pl" x="527" y="2509"/>
</g>
<g id="sisaltaaKasvillisuus">
<path class="nr" d="M327,2563V2548Q327,2542 333,2542H463Q469,2542 469,2548V2563Z"/>
<path class="tr" d="M327,2563H469V2577Q469,2583 463,2583H333Q327,2583 327,2577Z"/>
<path class="tc" d="M327,2563H363V2583H333Q327,2583 327,2577Z"/>
<rect class="bo" x="327" y="2542" width="142" height="41" rx="6"/>
<path class="dv" d="M327,2563H469"/><path class="sp" d="M363,2563V2583"/>
<text class="oc" x="299" y="2559">0..∞</text>
<text class="t" x="334" y="2557">sisaltaaKasvillisuus</text>
<text class="t" x="332" y="2577">Type</text><text class="t" x="369" y="2577">gml:ReferenceType</text>
<use href="#pl" x="478" y="2563"/>
</g>
<g id="sisaltaaVaruste">
<path class="nr" d="M327,2617V2602Q327,2596 333,2596H463Q469,2596 469,2602V2617Z"/>
<path class="tr" d="M327,2617H469V2631Q469,2637 463,2637H333Q327,2637 327,2631Z"/>
<path class="tc" d="M327,2617H363V2637H333Q327,2637 327,2631Z"/>
<rect class="bo" x="327" y="2596" width="142" height="41" rx="6"/>
<path class="dv" d="M327,2617H469"/><path class="sp" d="M363,2617V2637"/>
<text class="oc" x="299" y="2613">0..∞</text>
<text class="t" x="334" y="2611">sisaltaaVaruste</text>
<text class="t" x="332" y="2631">Type</text><text class="t" x="369" y="2631">gml:ReferenceType</text>
<use href="#pl" x="478" y="2617"/>
</g>

<!-- root element -->
<g id="KatualueenOsa">
<path class="nr" d="M1,1715V1700Q1,1694 7,1694H171Q177,1694 177,1700V1715Z"/>
<path class="tr" d="M1,1715H177V1729Q177,1735 171,1735H7Q1,1735 1,1729Z"/>
<path class="tc" d="M1,1715H36V1735H7Q1,1735 1,1729Z"/>
<rect class="bm" x="1" y="1694" width="176" height="41" rx="6"/>
<path class="dv" d="M1,1715H177"/><path class="sp" d="M36,1715V1735"/>
<text class="t" x="8" y="1709">KatualueenOsa</text>
<text class="t" x="6" y="1729">Type</text><text class="t" x="42" y="1729">infrao:KatualueenOsaType</text>
<use href="#mi" x="186" y="1714"/>
</g>

<!-- substitution group element -->
<g id="AbstractPaikkatietopalveluKohde">
<path class="nr" d="M235,2717V2703Q235,2697 241,2697H483Q489,2697 489,2703V2717Z"/>
<path class="tr" d="M235,2717H489V2749Q489,2755 483,2755H241Q235,2755 235,2749Z"/>
<path class="tc" d="M235,2717H289V2755H241Q235,2755 235,2749Z"/>
<rect class="bm" x="235" y="2697" width="254" height="58" rx="6"/>
<path class="dv" d="M235,2717H489"/><path class="sp" d="M289,2717V2755"/><path d="M235,2737H489" stroke="#999" fill="none"/>
<text class="t" x="242" y="2711">AbstractPaikkatietopalveluKohde</text>
<text class="t" x="240" y="2731">Type</text><text class="t" x="294" y="2731">infrao:AbstractPaikkatietopalveluKoh ...</text>
<text class="t" x="240" y="2750">Abstract</text><text class="t" x="294" y="2750">true</text>
<use href="#pl" x="498" y="2726"/>
<g transform="translate(235,2768)"><path class="an" d="M6,0H13L19,-7L25,0H246Q252,0 252,6V14Q252,20 246,20H6Q0,20 0,14V6Q0,0 6,0Z"/>
<text class="a" x="3" y="14">Kohde josta periytetään kaikki kohteet</text></g>
</g>
</svg>
